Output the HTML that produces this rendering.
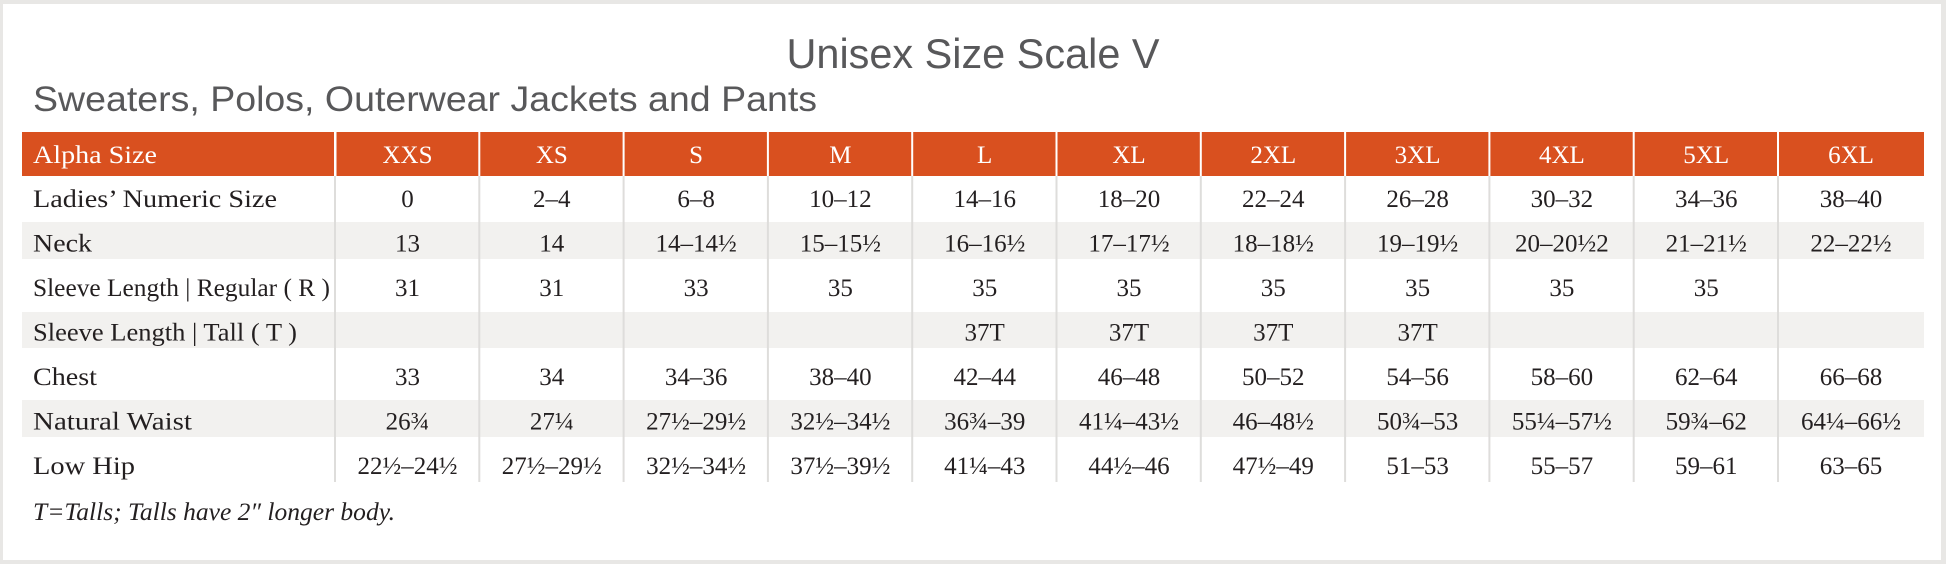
<!DOCTYPE html>
<html>
<head>
<meta charset="utf-8">
<style>
  html, body { margin: 0; padding: 0; background: #ffffff; }
  svg { display: block; }
  .ser { font-family: "Liberation Serif", serif; }
  .san { font-family: "Liberation Sans", sans-serif; }
</style>
</head>
<body>
<svg width="1946" height="564" viewBox="0 0 1946 564" xmlns="http://www.w3.org/2000/svg">
  <!-- frame -->
  <rect x="0" y="0" width="1946" height="564" fill="#e8e7e5"/>
  <rect x="3" y="4" width="1938" height="556" fill="#ffffff"/>

  <!-- titles -->
  <text class="san" x="973" y="68" font-size="42" fill="#58585a" text-anchor="middle" textLength="373" lengthAdjust="spacingAndGlyphs">Unisex Size Scale V</text>
  <text class="san" x="33" y="111" font-size="35" fill="#58585a" textLength="784" lengthAdjust="spacingAndGlyphs">Sweaters, Polos, Outerwear Jackets and Pants</text>

  <!-- header bar -->
  <rect x="22" y="132" width="1902" height="44" fill="#d9501f"/>

  <!-- zebra bands -->
  <rect x="22" y="222" width="1902" height="37" fill="#f2f1ef"/>
  <rect x="22" y="312" width="1902" height="36" fill="#f2f1ef"/>
  <rect x="22" y="400" width="1902" height="37" fill="#f2f1ef"/>

  <!-- header separators (white) -->
  <g fill="#ffffff">
    <rect x="334" y="132" width="2.5" height="44"/>
    <rect x="478.3" y="132" width="2" height="44"/>
    <rect x="622.6" y="132" width="2" height="44"/>
    <rect x="766.9" y="132" width="2" height="44"/>
    <rect x="911.2" y="132" width="2" height="44"/>
    <rect x="1055.5" y="132" width="2" height="44"/>
    <rect x="1199.8" y="132" width="2" height="44"/>
    <rect x="1344.1" y="132" width="2" height="44"/>
    <rect x="1488.4" y="132" width="2" height="44"/>
    <rect x="1632.7" y="132" width="2" height="44"/>
    <rect x="1777" y="132" width="2" height="44"/>
  </g>

  <!-- body vertical lines -->
  <g fill="#dedddb">
    <rect x="334" y="176" width="2" height="306"/>
    <rect x="478.3" y="176" width="2" height="306"/>
    <rect x="622.6" y="176" width="2" height="306"/>
    <rect x="766.9" y="176" width="2" height="306"/>
    <rect x="911.2" y="176" width="2" height="306"/>
    <rect x="1055.5" y="176" width="2" height="306"/>
    <rect x="1199.8" y="176" width="2" height="306"/>
    <rect x="1344.1" y="176" width="2" height="306"/>
    <rect x="1488.4" y="176" width="2" height="306"/>
    <rect x="1632.7" y="176" width="2" height="306"/>
    <rect x="1777" y="176" width="2" height="306"/>
  </g>

  <!-- header text -->
  <g class="ser" font-size="25" fill="#ffffff">
    <text x="33" y="163" textLength="124" lengthAdjust="spacingAndGlyphs">Alpha Size</text>
    <g text-anchor="middle">
      <text x="407.5" y="163">XXS</text>
      <text x="551.8" y="163">XS</text>
      <text x="696.1" y="163">S</text>
      <text x="840.4" y="163">M</text>
      <text x="984.7" y="163">L</text>
      <text x="1129" y="163">XL</text>
      <text x="1273.3" y="163">2XL</text>
      <text x="1417.6" y="163">3XL</text>
      <text x="1561.9" y="163">4XL</text>
      <text x="1706.2" y="163">5XL</text>
      <text x="1851" y="163">6XL</text>
    </g>
  </g>

  <!-- row labels -->
  <g class="ser" font-size="25" fill="#231f20">
    <text x="33" y="207" textLength="244" lengthAdjust="spacingAndGlyphs">Ladies’ Numeric Size</text>
    <text x="33" y="251.5" textLength="59" lengthAdjust="spacingAndGlyphs">Neck</text>
    <text x="33" y="296" textLength="297" lengthAdjust="spacingAndGlyphs">Sleeve Length | Regular ( R )</text>
    <text x="33" y="340.5" textLength="264" lengthAdjust="spacingAndGlyphs">Sleeve Length | Tall ( T )</text>
    <text x="33" y="385" textLength="64" lengthAdjust="spacingAndGlyphs">Chest</text>
    <text x="33" y="429.5" textLength="159" lengthAdjust="spacingAndGlyphs">Natural Waist</text>
    <text x="33" y="474" textLength="102" lengthAdjust="spacingAndGlyphs">Low Hip</text>
  </g>

  <!-- data -->
  <g class="ser" font-size="25" fill="#231f20" text-anchor="middle">
    <!-- Ladies -->
    <text x="407.5" y="207">0</text>
    <text x="551.8" y="207">2–4</text>
    <text x="696.1" y="207">6–8</text>
    <text x="840.4" y="207">10–12</text>
    <text x="984.7" y="207">14–16</text>
    <text x="1129" y="207">18–20</text>
    <text x="1273.3" y="207">22–24</text>
    <text x="1417.6" y="207">26–28</text>
    <text x="1561.9" y="207">30–32</text>
    <text x="1706.2" y="207">34–36</text>
    <text x="1851" y="207">38–40</text>
    <!-- Neck -->
    <text x="407.5" y="251.5">13</text>
    <text x="551.8" y="251.5">14</text>
    <text x="696.1" y="251.5">14–14½</text>
    <text x="840.4" y="251.5">15–15½</text>
    <text x="984.7" y="251.5">16–16½</text>
    <text x="1129" y="251.5">17–17½</text>
    <text x="1273.3" y="251.5">18–18½</text>
    <text x="1417.6" y="251.5">19–19½</text>
    <text x="1561.9" y="251.5">20–20½2</text>
    <text x="1706.2" y="251.5">21–21½</text>
    <text x="1851" y="251.5">22–22½</text>
    <!-- Sleeve R -->
    <text x="407.5" y="296">31</text>
    <text x="551.8" y="296">31</text>
    <text x="696.1" y="296">33</text>
    <text x="840.4" y="296">35</text>
    <text x="984.7" y="296">35</text>
    <text x="1129" y="296">35</text>
    <text x="1273.3" y="296">35</text>
    <text x="1417.6" y="296">35</text>
    <text x="1561.9" y="296">35</text>
    <text x="1706.2" y="296">35</text>
    <!-- Sleeve T -->
    <text x="984.7" y="340.5">37T</text>
    <text x="1129" y="340.5">37T</text>
    <text x="1273.3" y="340.5">37T</text>
    <text x="1417.6" y="340.5">37T</text>
    <!-- Chest -->
    <text x="407.5" y="385">33</text>
    <text x="551.8" y="385">34</text>
    <text x="696.1" y="385">34–36</text>
    <text x="840.4" y="385">38–40</text>
    <text x="984.7" y="385">42–44</text>
    <text x="1129" y="385">46–48</text>
    <text x="1273.3" y="385">50–52</text>
    <text x="1417.6" y="385">54–56</text>
    <text x="1561.9" y="385">58–60</text>
    <text x="1706.2" y="385">62–64</text>
    <text x="1851" y="385">66–68</text>
    <!-- Natural Waist -->
    <text x="407.5" y="429.5">26¾</text>
    <text x="551.8" y="429.5">27¼</text>
    <text x="696.1" y="429.5">27½–29½</text>
    <text x="840.4" y="429.5">32½–34½</text>
    <text x="984.7" y="429.5">36¾–39</text>
    <text x="1129" y="429.5">41¼–43½</text>
    <text x="1273.3" y="429.5">46–48½</text>
    <text x="1417.6" y="429.5">50¾–53</text>
    <text x="1561.9" y="429.5">55¼–57½</text>
    <text x="1706.2" y="429.5">59¾–62</text>
    <text x="1851" y="429.5">64¼–66½</text>
    <!-- Low Hip -->
    <text x="407.5" y="474">22½–24½</text>
    <text x="551.8" y="474">27½–29½</text>
    <text x="696.1" y="474">32½–34½</text>
    <text x="840.4" y="474">37½–39½</text>
    <text x="984.7" y="474">41¼–43</text>
    <text x="1129" y="474">44½–46</text>
    <text x="1273.3" y="474">47½–49</text>
    <text x="1417.6" y="474">51–53</text>
    <text x="1561.9" y="474">55–57</text>
    <text x="1706.2" y="474">59–61</text>
    <text x="1851" y="474">63–65</text>
  </g>

  <!-- footnote -->
  <text class="ser" x="33" y="520" font-size="25" font-style="italic" fill="#231f20" textLength="362" lengthAdjust="spacingAndGlyphs">T=Talls; Talls have 2″ longer body.</text>
</svg>
</body>
</html>
